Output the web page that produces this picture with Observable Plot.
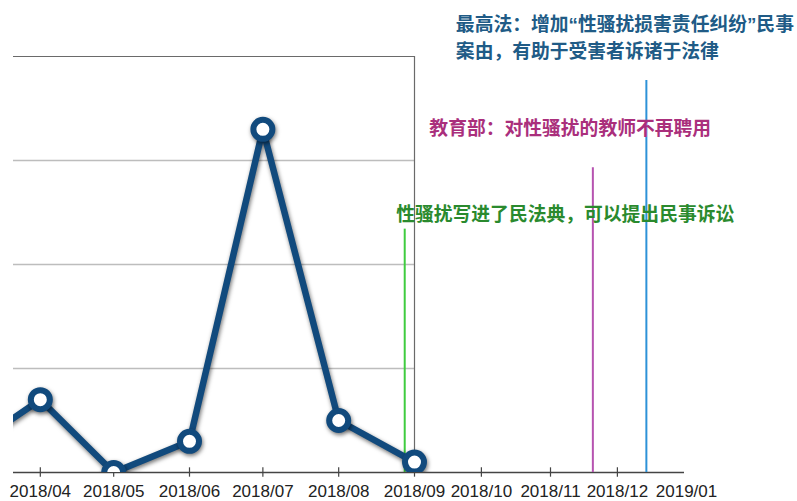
<!DOCTYPE html>
<html>
<head>
<meta charset="utf-8">
<script src="https://cdn.jsdelivr.net/npm/d3@7"></script>
<script src="https://cdn.jsdelivr.net/npm/@observablehq/plot@0.6"></script>
<style>
  html, body { margin: 0; padding: 0; background: #fff; }
</style>
</head>
<body>
<div id="chart"></div>
<script>
// ---- data ----
const months = ["2018-03-01", "2018-04-01", "2018-05-01", "2018-06-01", "2018-07-01", "2018-08-01", "2018-09-01"];
const counts = [2, 7, 0, 3, 33, 5, 1];
const tickLabels = ["2018/04", "2018/05", "2018/06", "2018/07", "2018/08", "2018/09", "2018/10", "2018/11", "2018/12", "2019/01"];
const eventDates = ["2018-08-28", "2018-11-20", "2018-12-14"];
const eventTops = [23.4, 29.3, 37.7];
const eventLines = [
  ["性骚扰写进了民法典，可以提出民事诉讼"],
  ["教育部：对性骚扰的教师不再聘用"],
  ["最高法：增加“性骚扰损害责任纠纷”民事", "案由，有助于受害者诉诸于法律"]
];

// ---- build tables ----
const series = months.map((m, i) => ({date: new Date(m), value: counts[i]}));
const tickDates = tickLabels.map(s => new Date(s.replace("/", "-") + "-01"));
const eventColors = ["#3fcc3f", "#b653b0", "#2d92d8"];
const textColors = ["#2a8a2e", "#aa2f7c", "#205b86"];
const events = eventDates.map((d, i) => ({date: new Date(d), top: eventTops[i], color: eventColors[i]}));
const textY = [[24.7], [33.0], [43.0, 40.4]];
const textDx = [-8, -163, -190];
const labels = [];
eventLines.forEach((lines, i) => lines.forEach((t, j) => labels.push({
  date: events[i].date, text: t, y: textY[i][j], color: textColors[i], dx: textDx[i]
})));
const sepDate = new Date("2018-09-01");
const startDate = new Date("2018-03-01");
const fontFam = '"Liberation Sans", "Noto Sans CJK SC", sans-serif';

const chart = Plot.plot({
  width: 797,
  height: 501,
  marginLeft: 13,
  marginRight: 113,
  marginTop: 56,
  marginBottom: 29,
  style: {fontFamily: fontFam, background: "#fff", color: "#222", overflow: "visible"},
  x: {type: "utc", domain: [startDate, sepDate, new Date("2019-01-01")], range: [-36, 414, 686]},
  y: {domain: [0, 40], axis: null},
  marks: [
    Plot.ruleY([10, 20, 30], {x1: startDate, x2: sepDate, stroke: "#bdbdbd", strokeWidth: 1.5, clip: true}),
    Plot.ruleY([40], {x1: startDate, x2: sepDate, stroke: "#6a6a6a", strokeWidth: 1.2, clip: true}),
    Plot.ruleX([sepDate], {y1: 0, y2: 40, stroke: "#6a6a6a", strokeWidth: 1.2}),
    Plot.ruleY([0], {stroke: "#444", strokeWidth: 1.5}),
    Plot.ruleX(tickDates.filter((d, i) => i < 9), {y1: -0.45, y2: 0.45, stroke: "#444", strokeWidth: 1.2}),
    Plot.axisX({ticks: tickDates, tickFormat: d3.utcFormat("%Y/%m"), tickSize: 0, tickPadding: 12, fontSize: 17, fill: "#222"}),
    Plot.ruleX(events, {x: "date", y1: 0, y2: "top", stroke: "color", strokeWidth: 2}),
    Plot.line(series, {x: "date", y: "value", stroke: "#114a7d", strokeWidth: 6.5, clip: true}),
    Plot.dot(series, {x: "date", y: "value", r: 9.5, fill: "#fff", stroke: "#114a7d", strokeWidth: 6, clip: true}),
    Plot.text(labels, {x: "date", y: "y", text: "text", fill: "color", dx: "dx", textAnchor: "start",
      fontSize: 18.8, fontWeight: "bold", fontFamily: fontFam})
  ]
});

// dx must be constant in Plot; apply per-label offsets manually
chart.querySelectorAll('g[aria-label="text"] text').forEach((t, i) => {
  t.setAttribute("dx", labels[i].dx);
});
chart.querySelectorAll('g[aria-label="line"], g[aria-label="dot"]').forEach(g => {
  g.style.filter = "drop-shadow(1px 2px 2px rgba(0,0,0,0.55))";
});
document.getElementById("chart").appendChild(chart);
</script>
</body>
</html>
